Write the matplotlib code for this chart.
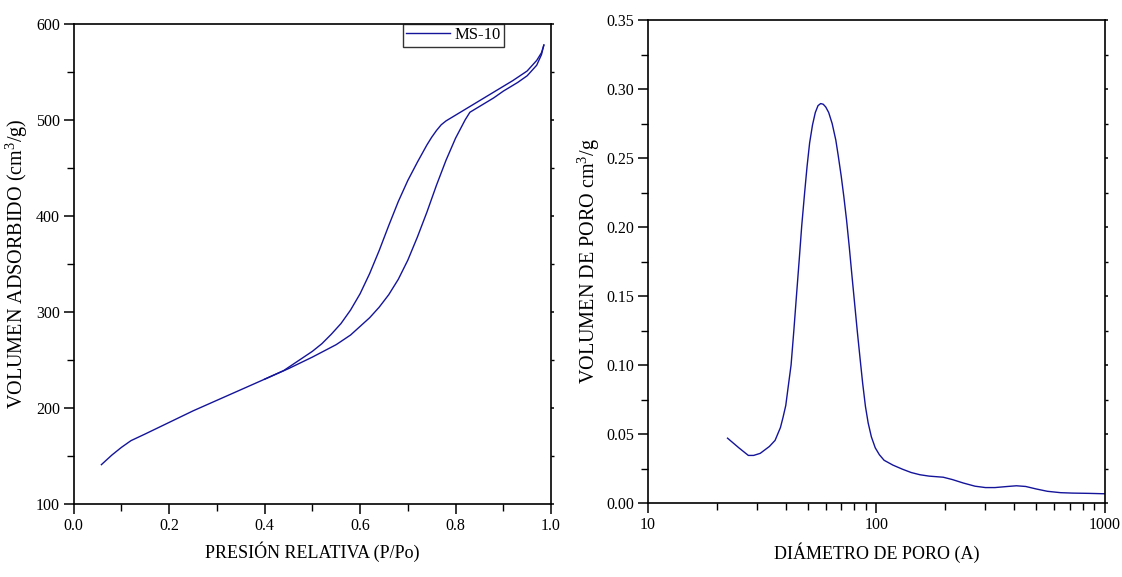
import matplotlib
matplotlib.use("Agg")
import matplotlib.pyplot as plt
from matplotlib.ticker import MultipleLocator, LogLocator, NullFormatter, FixedLocator, FixedFormatter

plt.rcParams['font.family'] = ['Liberation Serif', 'DejaVu Serif']
plt.rcParams['mathtext.fontset'] = 'custom'
plt.rcParams['mathtext.rm'] = 'Liberation Serif'

# ---- Isotherm (left) ----
ads_p = [0.058, 0.08, 0.10, 0.12, 0.15, 0.20, 0.25, 0.30, 0.35, 0.40, 0.45, 0.50,
         0.55, 0.58, 0.60, 0.62, 0.64, 0.66, 0.68, 0.70, 0.72, 0.74, 0.76, 0.78,
         0.80, 0.82, 0.83, 0.85, 0.88, 0.90, 0.93, 0.95, 0.97, 0.98, 0.985]
ads_v = [141, 151, 159, 166, 173, 185, 197, 208, 219, 230, 241, 253,
         266, 276, 285, 294, 305, 318, 334, 354, 378, 404, 432, 458,
         481, 500, 508, 514, 523, 530, 539, 546, 557, 568, 578]
des_p = [0.985, 0.98, 0.97, 0.95, 0.92, 0.90, 0.87, 0.85, 0.82, 0.80, 0.78, 0.77,
         0.76, 0.75, 0.74, 0.72, 0.70, 0.68, 0.66, 0.64, 0.62, 0.60, 0.58, 0.56,
         0.54, 0.52, 0.50, 0.47, 0.44, 0.40]
des_v = [578, 570, 562, 551, 541, 535, 526, 520, 511, 505, 499, 495,
         489, 482, 474, 456, 437, 415, 390, 364, 340, 319, 302, 288,
         277, 267, 259, 249, 239, 230]

# ---- Pore size distribution (right) ----
pore_d = [22.3, 25, 27.5, 29, 31, 34, 36, 38, 39, 40.1, 41, 42.3, 43.5, 44.7, 46,
          47.1, 48.5, 49.7, 51, 52.5, 54, 55.5, 57, 58.5, 60, 61.8, 64, 66.4, 68,
          70.1, 72, 74, 76, 78, 80, 82.5, 85, 87, 89.5, 92, 95, 98.8, 103, 108,
          118, 130, 142, 155, 170, 196, 215, 240, 270, 300, 330, 375, 410, 450,
          500, 560, 640, 720, 850, 1000]
pore_v = [0.047, 0.040, 0.0345, 0.0345, 0.036, 0.041, 0.0454, 0.0547, 0.062, 0.0707,
          0.083, 0.100, 0.125, 0.151, 0.178, 0.201, 0.225, 0.244, 0.261, 0.274,
          0.283, 0.288, 0.2895, 0.289, 0.287, 0.283, 0.275, 0.263, 0.252, 0.237,
          0.222, 0.205, 0.186, 0.166, 0.147, 0.124, 0.103, 0.087, 0.070, 0.058,
          0.048, 0.040, 0.035, 0.031, 0.0275, 0.0245, 0.0221, 0.0205, 0.0195,
          0.0187, 0.017, 0.0145, 0.0122, 0.0112, 0.0112, 0.012, 0.0125, 0.012,
          0.0102, 0.0085, 0.0075, 0.0072, 0.007, 0.0067]

color = '#14149a'

fig = plt.figure(figsize=(11.22, 5.77), dpi=100)
ax1 = fig.add_axes([0.0657, 0.1265, 0.4254, 0.832])
ax2 = fig.add_axes([0.5775, 0.1282, 0.4073, 0.837])

ax1.plot(ads_p, ads_v, color=color, lw=1.0, label='MS-10')
ax1.plot(des_p, des_v, color=color, lw=1.0)
ax1.set_xlim(0, 1.0)
ax1.set_ylim(100, 600)
ax1.xaxis.set_major_locator(MultipleLocator(0.2))
ax1.xaxis.set_minor_locator(MultipleLocator(0.1))
ax1.yaxis.set_major_locator(MultipleLocator(100))
ax1.yaxis.set_minor_locator(MultipleLocator(50))
ax1.xaxis.set_major_formatter(plt.FuncFormatter(lambda v, p: f"{v:.1f}"))
ax1.set_xlabel('PRESIÓN RELATIVA (P/Po)', fontsize=13)
ax1.set_ylabel('VOLUMEN ADSORBIDO (cm$^3$/g)', fontsize=14.5)
ax1.xaxis.set_label_coords(0.5, -0.077, transform=ax1.transAxes)
ax1.yaxis.set_label_coords(-0.092, 0.5, transform=ax1.transAxes)
leg = ax1.legend(loc='upper right', bbox_to_anchor=(0.902, 1.0), fontsize=12,
                 frameon=True, fancybox=False, handlelength=2.6, borderpad=0.2,
                 borderaxespad=0.0, handletextpad=0.3)
leg.get_frame().set_edgecolor('black')
leg.get_frame().set_linewidth(1.0)

ax2.plot(pore_d, pore_v, color=color, lw=1.0)
ax2.set_xscale('log')
ax2.set_xlim(10, 1000)
ax2.set_ylim(0, 0.35)
ax2.xaxis.set_major_locator(FixedLocator([10, 100, 1000]))
ax2.xaxis.set_major_formatter(FixedFormatter(['10', '100', '1000']))
ax2.xaxis.set_minor_locator(LogLocator(base=10, subs=range(2, 10)))
ax2.xaxis.set_minor_formatter(NullFormatter())
ax2.yaxis.set_major_locator(MultipleLocator(0.05))
ax2.yaxis.set_minor_locator(MultipleLocator(0.025))
ax2.yaxis.set_major_formatter(plt.FuncFormatter(lambda v, p: f"{v:.2f}"))
ax2.set_xlabel('DIÁMETRO DE PORO (A)', fontsize=13)
ax2.set_ylabel('VOLUMEN DE PORO cm$^3$/g', fontsize=14.5)
ax2.xaxis.set_label_coords(0.5, -0.081, transform=ax2.transAxes)
ax2.yaxis.set_label_coords(-0.1, 0.5, transform=ax2.transAxes)

for ax in (ax1, ax2):
    for s in ax.spines.values():
        s.set_linewidth(1.2)
    ax.tick_params(which='major', direction='out', length=7, width=1.1, labelsize=11.5,
                   pad=3, right=True, top=False)
    ax.tick_params(which='minor', direction='out', length=5, width=1.0, right=True, top=False)
    ax.tick_params(axis='y', which='both', labelright=False)

for ax in (ax1, ax2):
    for t in ax.yaxis.get_major_ticks() + ax.yaxis.get_minor_ticks():
        t.tick2line.set_markersize(2)

fig.savefig('out.png', dpi=100)
